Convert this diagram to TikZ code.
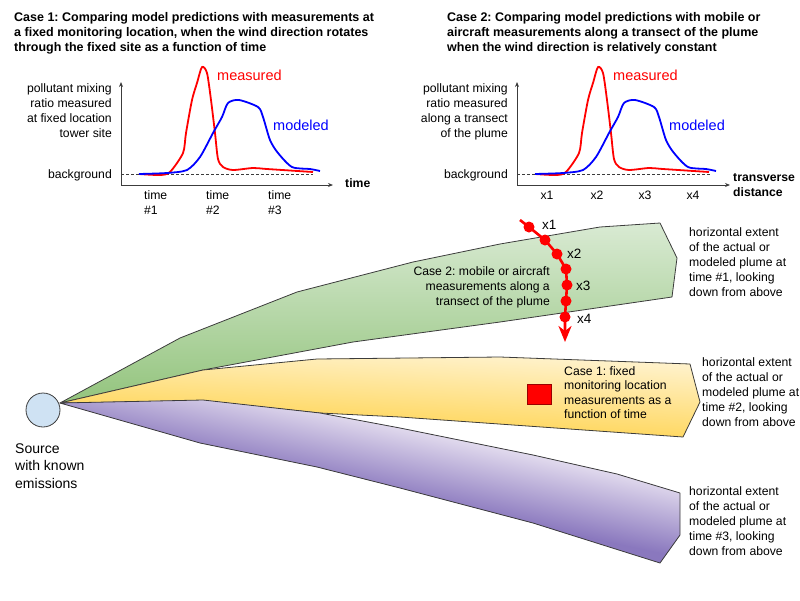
\documentclass[tikz,border=0pt]{standalone}
\usepackage{fontspec}
\setmainfont{Liberation Sans}
\usetikzlibrary{arrows.meta}
\frenchspacing
\definecolor{plgreentop}{HTML}{D9EAD3}
\definecolor{plgreenbot}{HTML}{93C47D}
\definecolor{plyellowtop}{HTML}{FFF2CC}
\definecolor{plyellowbot}{HTML}{FFD966}
\definecolor{plpurpletop}{HTML}{E2DBEE}
\definecolor{plpurplebot}{HTML}{8A78BE}
\definecolor{srcblue}{HTML}{CFE2F3}
\definecolor{edgegray}{HTML}{3C3C3C}

\begin{document}
\begin{tikzpicture}[x=1pt, y=-1pt]
	\tikzset{
		txt/.style={inner sep=0, font=\fontsize{12.2}{14.8}\selectfont},
		head/.style={inner sep=0, align=left, font=\fontsize{12.5}{15}\selectfont\bfseries},
		axislbl/.style={inner sep=0, align=left, font=\fontsize{12.2}{15}\selectfont\bfseries},
		curvelbl/.style={inner sep=0, font=\fontsize{14.5}{17}\selectfont},
		xlbl/.style={inner sep=0, anchor=base west, font=\fontsize{13.5}{16}\selectfont},
		axis lines/.style={line width=0.9pt, edgegray, -{Stealth[length=5pt,width=4pt]}},
		bg line/.style={line width=0.8pt, edgegray, dashed, dash pattern=on 3pt off 2pt},
		measured line/.style={line width=1.8pt, red, line join=round},
		modeled line/.style={line width=1.8pt, blue, line join=round},
		plume/.style={draw=edgegray, line width=0.8pt, line join=round},
		dot/.style={circle, fill=red, inner sep=0, minimum size=11pt},
		transect/.style={line width=2.6pt, red, -{Stealth[length=16pt,width=13pt,inset=5pt]}},
	}
	\useasboundingbox (0,0) rectangle (800,600);
	% \draw[help lines, step=50] (0,0) grid (800,600);

	% case 1 chart
	\node[head, anchor=base west] (title1) at (14,51.5)
		{Case 1: Comparing model predictions with measurements at\\a fixed monitoring location, when the wind direction rotates\\through the fixed site as a function of time};
	\coordinate (o1) at (121,185);
	\coordinate (ytop1) at (121,82);
	\coordinate (xend1) at (333,185);
	\draw[axis lines] (o1) -- (ytop1);
	\draw[axis lines] (o1) -- (xend1);
	\coordinate (bga1) at (121,174);
	\coordinate (bgb1) at (313,174);
	\draw[bg line] (bga1) -- (bgb1);
	\node[txt, align=right, anchor=base east] (ylbl1) at (112,137)
		{pollutant mixing\\ratio measured\\at fixed location\\tower site};
	\node[txt, anchor=base east] (bg1) at (112,178) {background};
	\node[axislbl, anchor=base west] (xlbl1) at (345,187) {time};
	\node[txt, align=left, anchor=base west] (t1) at (144,214) {time\\\#1};
	\node[txt, align=left, anchor=base west] (t2) at (206,214) {time\\\#2};
	\node[txt, align=left, anchor=base west] (t3) at (268,214) {time\\\#3};
	\node[curvelbl, red, anchor=base west] (meas1) at (217,80) {measured};
	\node[curvelbl, blue, anchor=base west] (mod1) at (273,130) {modeled};

	% case 2 chart
	\node[head, anchor=base west] (title2) at (447,51.5)
		{Case 2: Comparing model predictions with mobile or\\aircraft measurements along a transect of the plume\\when the wind direction is relatively constant};
	\coordinate (o2) at (517,185);
	\coordinate (ytop2) at (517,82);
	\coordinate (xend2) at (730,185);
	\draw[axis lines] (o2) -- (ytop2);
	\draw[axis lines] (o2) -- (xend2);
	\coordinate (bga2) at (517,174);
	\coordinate (bgb2) at (710,174);
	\draw[bg line] (bga2) -- (bgb2);
	\node[txt, align=right, anchor=base east] (ylbl2) at (508,137)
		{pollutant mixing\\ratio measured\\along a transect\\of the plume};
	\node[txt, anchor=base east] (bg2) at (508,178) {background};
	\node[axislbl, anchor=base west] (xlbl2) at (733,196) {transverse\\distance};
	\foreach \xx/\lbl in {547/x1, 597/x2, 645/x3, 693/x4}
		\node[txt, anchor=base] (tick-\lbl) at (\xx,199) {\lbl};
	\node[curvelbl, red, anchor=base west] (meas2) at (613,80) {measured};
	\node[curvelbl, blue, anchor=base west] (mod2) at (669,130) {modeled};

	% the same two curves in both charts
	\foreach \dx in {0,396} {
		\draw[measured line, xshift=\dx] plot[smooth, tension=0.45] coordinates {
			(139,174) (160,175) (170,172) (183,153) (186,133) (192,100) (197,83)
			(202,67) (207,73) (211,100) (215,133) (218,159) (223,167) (233,170)
			(253,168) (267,169) (313,172)};
		\draw[modeled line, xshift=\dx] plot[smooth, tension=0.45] coordinates {
			(139,174) (167,173) (187,170) (200,157) (213,133) (222,117) (228,103)
			(239,100) (258,107) (263,117) (270,140) (278,153) (292,167) (310,169)
			(320,171)};
	}

	% plumes
	\node[circle, draw=edgegray, fill=srcblue, line width=0.8pt, minimum size=34pt, inner sep=0] (src) at (43,410) {};
	\coordinate (tip) at (60,403);
	\path[plume, top color=plgreentop, bottom color=plgreenbot]
		(tip) -- (180,338) -- (297,292) -- (413,262) -- (500,244) -- (600,227)
		-- (660,223) -- (677,258) -- (672,297) -- (500,322) -- (353,342)
		-- (203,370) -- cycle;
	% yellow and purple shade across the plume, not across the page
	\path[plume, path picture={
			\fill[plyellowbot] (path picture bounding box.south west) rectangle (path picture bounding box.north east);
			\shade[transform canvas={rotate around={-3:(tip)}}, top color=plyellowtop, bottom color=plyellowbot]
				(50,331) rectangle (760,403);}]
		(tip) -- (203,370) -- (317,359) -- (500,357) -- (690,364) -- (700,402)
		-- (683,437) -- (400,417) -- (320,413) -- (203,401) -- cycle;
	\path[plume, path picture={
			\fill[plpurplebot] (path picture bounding box.south west) rectangle (path picture bounding box.north east);
			\shade[transform canvas={rotate around={-12:(tip)}}, top color=plpurpletop, bottom color=plpurplebot]
				(50,355) rectangle (760,425);}]
		(tip) -- (203,400) -- (320,413) -- (400,428) -- (533,455) -- (617,474)
		-- (680,493) -- (680,535) -- (660,563) -- (533,523) -- (400,488)
		-- (317,467) -- (200,443) -- cycle;
	\node[inner sep=0, align=left, anchor=base west, font=\fontsize{14}{17.5}\selectfont] (srclbl) at (15,488)
		{Source\\with known\\emissions};

	% case 2 transect
	\node[txt, align=right, anchor=base east] (case2) at (550,305)
		{Case 2: mobile or aircraft\\measurements along a\\transect of the plume};
	\coordinate (trstart) at (520,220);
	\coordinate (trend) at (565,342);
	\coordinate (p1) at (529,227);
	\coordinate (p2) at (545,240);
	\coordinate (p3) at (557,254);
	\coordinate (p4) at (566,269);
	\coordinate (p5) at (567,285);
	\coordinate (p6) at (566,301);
	\coordinate (p7) at (565,317);
	\draw[transect] (trstart) -- (p1) -- (p2) -- (p3) -- (p4) -- (p5) -- (p6) -- (p7) -- (trend);
	\foreach \n in {1,...,7}
		\node[dot] (d\n) at (p\n) {};
	\node[xlbl] (lx1) at (542,229) {x1};
	\node[xlbl] (lx2) at (567,258) {x2};
	\node[xlbl] (lx3) at (576,290) {x3};
	\node[xlbl] (lx4) at (577,323) {x4};

	% case 1 fixed site
	\node[draw=red!60!black, fill=red, line width=0.8pt, minimum width=24pt, minimum height=20pt, inner sep=0] (site) at (539,394) {};
	\node[txt, align=left, anchor=base west, font=\fontsize{12.2}{14.5}\selectfont] (case1) at (564,418.5)
		{Case 1: fixed\\monitoring location\\measurements as a\\function of time};

	% plume notes
	\node[txt, align=left, anchor=base west] (note1) at (689,296)
		{horizontal extent\\of the actual or\\modeled plume at\\time \#1, looking\\down from above};
	\node[txt, align=left, anchor=base west] (note2) at (702,426)
		{horizontal extent\\of the actual or\\modeled plume at\\time \#2, looking\\down from above};
	\node[txt, align=left, anchor=base west] (note3) at (689,555)
		{horizontal extent\\of the actual or\\modeled plume at\\time \#3, looking\\down from above};
\end{tikzpicture}
\end{document}
